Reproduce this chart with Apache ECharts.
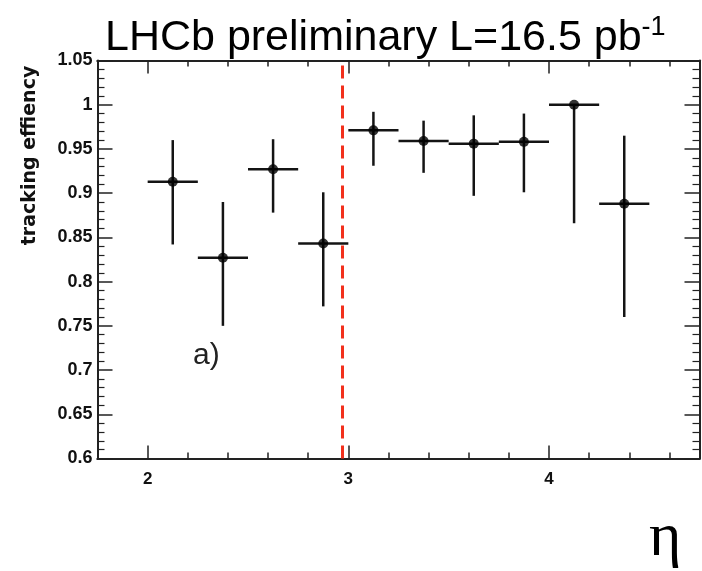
<!DOCTYPE html>
<html>
<head>
<meta charset="utf-8">
<script src="https://cdn.jsdelivr.net/npm/echarts@6/dist/echarts.min.js"></script>
<style>
  html, body { margin: 0; padding: 0; background: #fff; }
  #chart { width: 702px; height: 571px; }
</style>
</head>
<body>
<div id="chart"></div>
<script>
// ---- data ----
const etaCenters   = [2.125, 2.375, 2.625, 2.875, 3.125, 3.375, 3.625, 3.875, 4.125, 4.375];
const efficiency   = [0.913, 0.827, 0.927, 0.843, 0.971, 0.959, 0.956, 0.958, 1.000, 0.888];
const errLowBound  = [0.842, 0.750, 0.878, 0.772, 0.931, 0.923, 0.897, 0.901, 0.866, 0.760];
const errHighBound = [0.960, 0.890, 0.961, 0.901, 0.992, 0.982, 0.988, 0.990, 1.000, 0.965];
const binHalfWidth = 0.125;
const xMajorTicks  = [2, 3, 4];
const xMinorTicks  = [2.2, 2.4, 2.6, 2.8, 3.2, 3.4, 3.6, 3.8, 4.2, 4.4, 4.6];
const dividerEta   = 2.97;
const titleText    = 'LHCb preliminary L=16.5 pb';
const titleSup     = '-1';
const yAxisTitle   = 'tracking effiency';
const xAxisTitle   = 'η';
const panelLabel   = 'a)';

const points = etaCenters.map((x, i) => [x, efficiency[i], errLowBound[i], errHighBound[i]]);

const chart = echarts.init(document.getElementById('chart'), null, { renderer: 'canvas' });

const axisColor = '#222';
const xRange = { min: 1.75, max: 4.75 };

function xAxisBase(position, ticks, len, showLabel) {
  return {
    type: 'value', position: position, min: xRange.min, max: xRange.max,
    axisLine: { show: true, onZero: false, lineStyle: { color: axisColor, width: 2 } },
    splitLine: { show: false },
    axisTick: { show: true, inside: true, length: len, customValues: ticks,
                lineStyle: { color: axisColor, width: 1.5 } },
    axisLabel: showLabel ? {
      show: true, customValues: ticks, margin: 12,
      fontFamily: 'Liberation Sans', fontWeight: 'bold', fontSize: 17, color: '#111'
    } : { show: false }
  };
}

function yAxisBase(position, showLabel) {
  return {
    type: 'value', position: position, min: 0.6, max: 1.05, interval: 0.05,
    axisLine: { show: true, onZero: false, lineStyle: { color: axisColor, width: 2 } },
    splitLine: { show: false },
    minorSplitLine: { show: false },
    axisTick: { show: true, inside: true, length: 15, lineStyle: { color: axisColor, width: 1.5 } },
    minorTick: { show: true, splitNumber: 5, length: 7, lineStyle: { color: axisColor, width: 1.2 } },
    axisLabel: showLabel ? {
      show: true, margin: 5,
      fontFamily: 'Liberation Sans', fontWeight: 'bold', fontSize: 18, color: '#111'
    } : { show: false }
  };
}

const yLeft = yAxisBase('left', true);
yLeft.name = yAxisTitle;
yLeft.nameLocation = 'middle';
yLeft.nameRotate = 90;
yLeft.nameGap = 58;
yLeft.nameTextStyle = {
  fontFamily: 'DejaVu Sans', fontWeight: 'bold', fontSize: 19, color: '#111',
  padding: [0, 0, 0, 208]
};

const option = {
  backgroundColor: '#fff',
  animation: false,
  title: [
    {
      text: '{m|' + titleText + '}{s|' + titleSup + '}',
      left: 100, top: 9,
      textStyle: {
        fontWeight: 'normal',
        rich: {
          m: { fontFamily: 'Liberation Sans', fontWeight: 'normal', fontSize: 43, color: '#000', lineHeight: 48 },
          s: { fontFamily: 'Liberation Sans', fontWeight: 'normal', fontSize: 27, color: '#000', lineHeight: 27, verticalAlign: 'top' }
        }
      }
    },
    {
      text: xAxisTitle, left: 644, top: 503,
      textStyle: { fontFamily: 'Liberation Serif', fontSize: 62, fontWeight: 'normal', color: '#000' }
    },
    {
      text: panelLabel, left: 188, top: 336,
      textStyle: { fontFamily: 'Liberation Sans', fontSize: 30, fontWeight: 'normal', color: '#222' }
    }
  ],
  grid: { left: 97.5, right: 2.5, top: 60.5, bottom: 112.5, containLabel: false },
  xAxis: [
    xAxisBase('bottom', xMajorTicks, 13, true),
    xAxisBase('bottom', xMinorTicks, 6, false),
    xAxisBase('top', xMajorTicks, 13, false),
    xAxisBase('top', xMinorTicks, 6, false)
  ],
  yAxis: [ yLeft, yAxisBase('right', false) ],
  series: [
    {
      type: 'custom',
      xAxisIndex: 0, yAxisIndex: 0,
      data: points,
      encode: { x: 0, y: 1 },
      renderItem: function (params, api) {
        const x = api.value(0), y = api.value(1), lo = api.value(2), hi = api.value(3);
        const pL = api.coord([x - binHalfWidth, y]);
        const pR = api.coord([x + binHalfWidth, y]);
        const pT = api.coord([x, hi]);
        const pB = api.coord([x, lo]);
        const st = { stroke: '#141414', lineWidth: 2.5 };
        return {
          type: 'group',
          children: [
            { type: 'line', shape: { x1: pL[0], y1: pL[1], x2: pR[0], y2: pR[1] }, style: st },
            { type: 'line', shape: { x1: pT[0], y1: pT[1], x2: pB[0], y2: pB[1] }, style: st }
          ]
        };
      },
      z: 2
    },
    {
      type: 'scatter',
      xAxisIndex: 0, yAxisIndex: 0,
      data: points.map(p => [p[0], p[1]]),
      symbol: 'circle', symbolSize: 10,
      itemStyle: { color: '#000' },
      z: 3,
      markLine: {
        silent: true, symbol: 'none',
        label: { show: false },
        lineStyle: { color: '#f2301c', width: 3, type: [13, 7] },
        data: [ { xAxis: dividerEta } ]
      }
    }
  ]
};

chart.setOption(option);
</script>
</body>
</html>
